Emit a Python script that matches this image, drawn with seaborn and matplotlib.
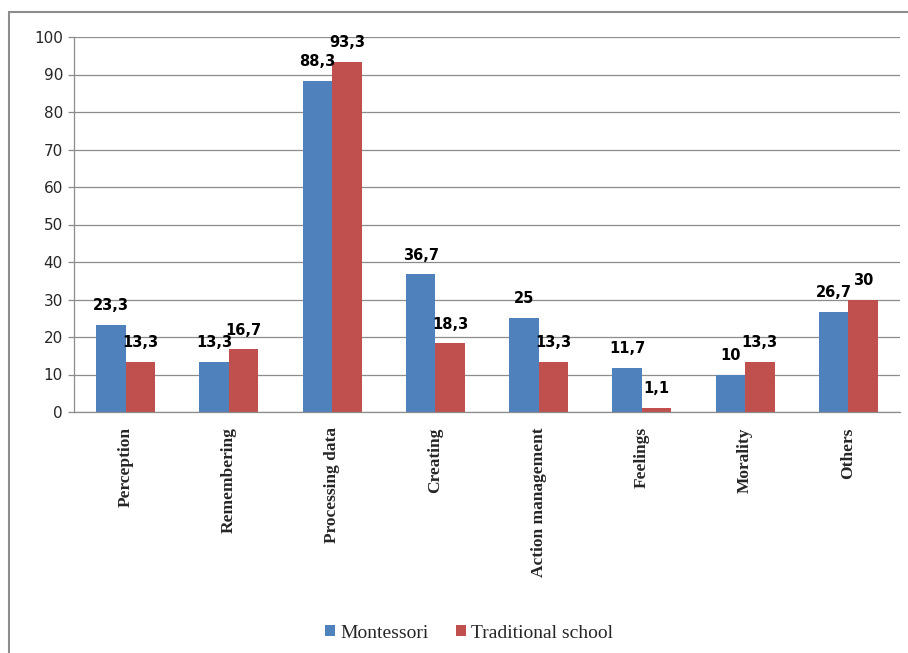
import matplotlib
matplotlib.use("Agg")
import matplotlib.pyplot as plt
import seaborn as sns
import pandas as pd
from matplotlib.lines import Line2D
from matplotlib.patches import Patch

categories = ["Perception", "Remembering", "Processing data", "Creating",
              "Action management", "Feelings", "Morality", "Others"]
montessori = [23.3, 13.3, 88.3, 36.7, 25, 11.7, 10, 26.7]
traditional = [13.3, 16.7, 93.3, 18.3, 13.3, 1.1, 13.3, 30]
series_names = ["Montessori", "Traditional school"]
y_ticks = [0, 10, 20, 30, 40, 50, 60, 70, 80, 90, 100]
colors = ["#4F81BD", "#C0504D"]

df = pd.DataFrame({
    "category": categories * 2,
    "value": montessori + traditional,
    "series": [series_names[0]] * len(categories) + [series_names[1]] * len(categories),
})

sns.set_style("white")
fig = plt.figure(figsize=(9.08, 6.53), dpi=100)
ax = fig.add_axes([74 / 908, 241 / 653, (900 - 74) / 908, (412 - 37) / 653])

sns.barplot(data=df, x="category", y="value", hue="series", order=categories,
            hue_order=series_names, palette=colors, width=0.57, gap=0,
            saturation=1, ax=ax, legend=False, errorbar=None, linewidth=0)

def fmt(v):
    return ("%g" % v).replace(".", ",")

for container in ax.containers:
    for bar in container:
        h = bar.get_height()
        ax.annotate(fmt(h), (bar.get_x() + bar.get_width() / 2, h),
                    xytext=(0, 8.5), textcoords="offset points",
                    ha="center", va="bottom", fontsize=10.5, fontweight="bold",
                    family="DejaVu Sans", color="black")

ax.set_ylim(0, 100)
ax.set_xlim(-0.5, len(categories) - 0.5)
ax.set_yticks(y_ticks)
ax.set_yticklabels([str(t) for t in y_ticks], fontsize=11, family="DejaVu Sans")
ax.yaxis.grid(True, color="#8c8c8c", linewidth=0.9)
ax.set_axisbelow(True)
ax.set_xlabel("")
ax.set_ylabel("")

ax.set_xticks(range(len(categories)))
ax.set_xticklabels(categories, rotation=90, fontsize=12.5, fontweight="bold",
                   family="Liberation Serif", va="top", ha="center")
ax.set_xticks([i - 0.5 for i in range(len(categories) + 1)], minor=True)
ax.tick_params(axis="x", which="major", length=0, pad=11)
ax.tick_params(axis="x", which="minor", length=4, color="#8c8c8c", width=0.9)
ax.tick_params(axis="y", which="major", length=4, color="#8c8c8c", width=0.9, pad=4, left=True)

for s in ["top", "right"]:
    ax.spines[s].set_visible(False)
for s in ["left", "bottom"]:
    ax.spines[s].set_color("#8c8c8c")
    ax.spines[s].set_linewidth(0.9)

handles = [Patch(facecolor=c, edgecolor="none") for c in colors]
fig.legend(handles, series_names, loc="center", bbox_to_anchor=(469 / 908, 1 - 633 / 653),
           ncol=2, frameon=False, handlelength=0.55, handleheight=0.55,
           handletextpad=0.25, columnspacing=1.4,
           prop={"family": "Liberation Serif", "size": 14})

# outer chart border (only top and left edges visible in the reference crop)
fig.add_artist(Line2D([8.5 / 908, 1], [1 - 12 / 653, 1 - 12 / 653],
                      transform=fig.transFigure, color="#8c8c8c", linewidth=1.5))
fig.add_artist(Line2D([8.5 / 908, 8.5 / 908], [0, 1 - 12 / 653],
                      transform=fig.transFigure, color="#8c8c8c", linewidth=1.5))

fig.savefig("out.png", dpi=100)
